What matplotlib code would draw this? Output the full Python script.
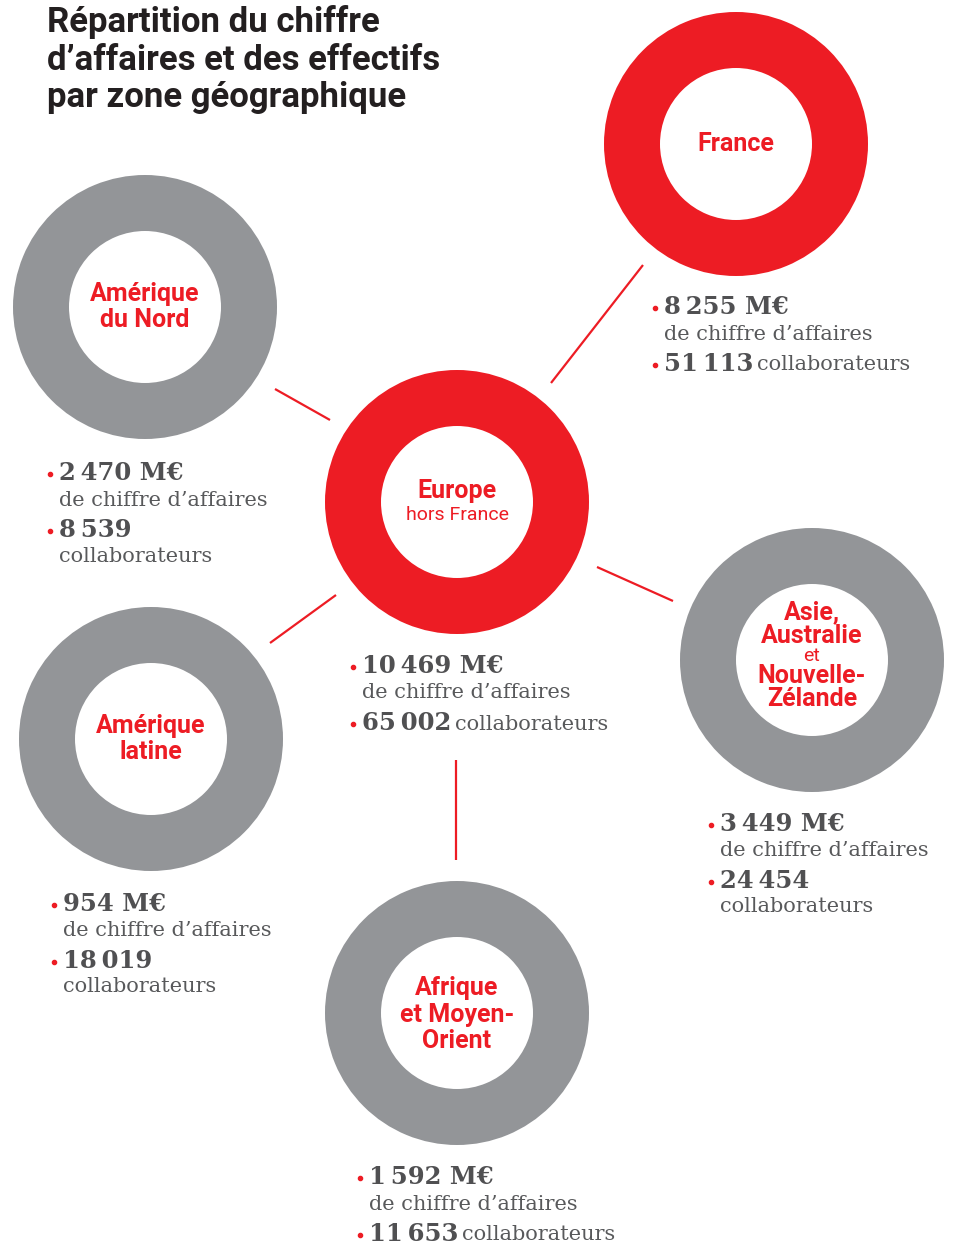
import matplotlib

matplotlib.use("Agg")
import matplotlib.pyplot as plt
from matplotlib.patches import Wedge

RED = "#ed1c24"
GREY = "#939598"
DARK = "#505052"
TEXT = "#58595b"

SANS = ["Liberation Sans Narrow", "Roboto", "DejaVu Sans"]
SLAB = ["DejaVu Serif"]

title_lines = ["Répartition du chiffre", "d’affaires et des effectifs", "par zone géographique"]

regions = ["France", "Europe hors France", "Amérique du Nord", "Amérique latine",
           "Asie, Australie et Nouvelle-Zélande", "Afrique et Moyen-Orient"]
revenue_meur = [8255, 10469, 2470, 954, 3449, 1592]
headcount = [51113, 65002, 8539, 18019, 24454, 11653]
ring_colors = [RED, RED, GREY, GREY, GREY, GREY]

# label lines inside each ring: (text, bold?)
label_lines = [
    [("France", True)],
    [("Europe", True), ("hors France", False)],
    [("Amérique", True), ("du Nord", True)],
    [("Amérique", True), ("latine", True)],
    [("Asie,", True), ("Australie", True), ("et", False), ("Nouvelle-", True), ("Zélande", True)],
    [("Afrique", True), ("et Moyen-", True), ("Orient", True)],
]

# layout in pixels (figure is 957 x 1246)
centers = [(736, 144), (457, 502), (145, 307), (151, 739), (812, 660), (457, 1013)]
label_dy = [[0], [-11, 13], [-13, 13], [-13, 13], [-48, -24, -4, 16, 39], [-25, 2, 28]]
stat_anchor = [(664, 307), (362, 666), (59, 473), (63, 904), (720, 824), (369, 1177)]
stacked = [False, False, True, True, True, False]
connectors = [((643, 265), (551, 383)), ((275, 389), (330, 420)), ((597, 567), (673, 601)),
              ((336, 595), (270, 643)), ((456, 760), (456, 860))]

R_OUT, RING_W = 132, 56


def fmt(v):
    return f"{v:,}".replace(",", "\u2009")


fig = plt.figure(figsize=(9.57, 12.46), dpi=100)
ax = fig.add_axes([0, 0, 1, 1])
ax.set_xlim(0, 957)
ax.set_ylim(1246, 0)
ax.axis("off")
renderer = fig.canvas.get_renderer()

for y, line in zip([32, 70, 107], title_lines):
    ax.text(47, y, line, fontsize=25, fontweight="bold", family=SANS, color="#231f20",
            va="baseline", ha="left")

for (x0, y0), (x1, y1) in connectors:
    ax.plot([x0, x1], [y0, y1], color=RED, lw=1.6, solid_capstyle="butt")

for i, name in enumerate(regions):
    cx, cy = centers[i]
    ax.add_patch(Wedge((cx, cy), R_OUT, 0, 360, width=RING_W, color=ring_colors[i], lw=0))
    for (txt, bold), dy in zip(label_lines[i], label_dy[i]):
        ax.text(cx, cy + dy, txt, fontsize=18 if bold else 14, family=SANS,
                fontweight="bold" if bold else "normal", color=RED,
                ha="center", va="center")

    sx, sy = stat_anchor[i]
    ax.plot(sx - 9, sy + 1, "o", color=RED, ms=3)
    ax.text(sx, sy, f"{fmt(revenue_meur[i])} M€", fontsize=17.5, fontweight="bold",
            family=SLAB, color=DARK, ha="left", va="center")
    ax.text(sx, sy + 27, "de chiffre d’affaires", fontsize=15, family=SLAB,
            color=TEXT, ha="left", va="center")
    hy = sy + 57
    ax.plot(sx - 9, hy + 1, "o", color=RED, ms=3)
    t = ax.text(sx, hy, fmt(headcount[i]), fontsize=17.5, fontweight="bold",
                family=SLAB, color=DARK, ha="left", va="center")
    if stacked[i]:
        ax.text(sx, hy + 26, "collaborateurs", fontsize=15, family=SLAB,
                color=TEXT, ha="left", va="center")
    else:
        x_end = t.get_window_extent(renderer).x1
        ax.text(x_end + 4, hy + 1, "collaborateurs", fontsize=15, family=SLAB,
                color=TEXT, ha="left", va="center")

fig.savefig("out.png", dpi=100)
